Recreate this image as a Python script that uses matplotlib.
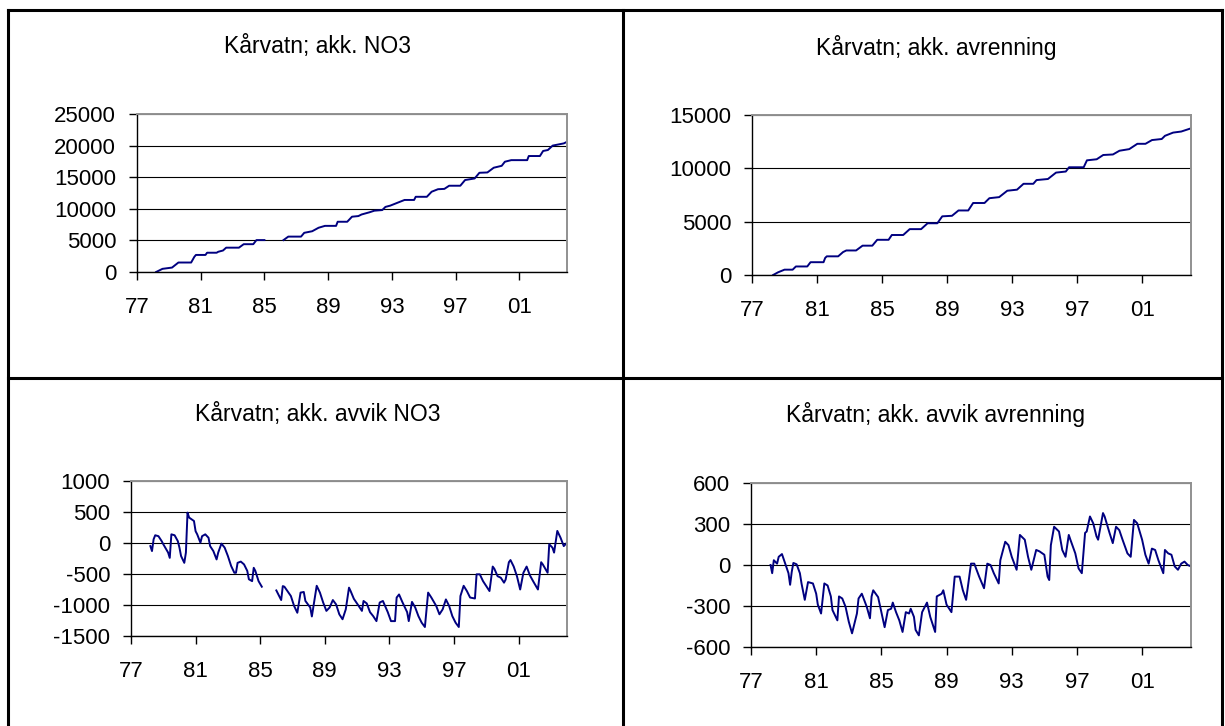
import numpy as np
import matplotlib.pyplot as plt
from matplotlib.lines import Line2D

plt.rcParams['font.family'] = ['Liberation Sans', 'DejaVu Sans']
plt.rcParams['axes.unicode_minus'] = False

# years as two-digit numbers from 1900 (101 = 2001), nan marks missing data
no3_acc_year = [78.2, 78.6, 79.2, 79.6, 80.4, 80.6, 80.7, 81.3, 81.4, 82.0, 82.1, 82.4, 82.6,
                83.4, 83.7, 84.3, 84.5, 85.0, np.nan, 86.2, 86.5, 87.3, 87.5, 88.0, 88.4,
                88.8, 89.5, 89.6, 90.2, 90.5, 90.9, 91.1, 91.6, 91.9, 92.4, 92.6, 92.9,
                93.4, 93.8, 94.4, 94.5, 95.2, 95.5, 95.9, 96.3, 96.6, 97.3, 97.6, 98.2,
                98.5, 99.0, 99.4, 99.9, 100.1, 100.5, 101.5, 101.6, 102.3, 102.5, 102.8,
                103.1, 103.8, 104.0]
no3_acc = [0, 500, 700, 1500, 1500, 2400, 2700, 2700, 3050, 3050, 3200, 3400, 3850,
           3850, 4400, 4400, 5050, 5050, np.nan, 5050, 5600, 5600, 6200, 6450, 7000,
           7300, 7300, 7950, 7950, 8750, 8850, 9100, 9450, 9700, 9800, 10300, 10500,
           11000, 11400, 11400, 11900, 11900, 12700, 13100, 13150, 13650, 13650, 14550, 14800,
           15700, 15750, 16500, 16800, 17450, 17700, 17700, 18350, 18350, 19150, 19300,
           20000, 20350, 20600]

runoff_acc_year = [78.3, 78.6, 79.0, 79.5, 79.7, 80.4, 80.6, 81.4, 81.5, 81.6, 82.3, 82.6,
                   82.8, 83.4, 83.8, 84.4, 84.7, 85.4, 85.6, 86.3, 86.7, 87.4, 87.8, 88.4,
                   88.7, 89.3, 89.7, 90.3, 90.6, 91.3, 91.6, 92.2, 92.7, 93.3, 93.7, 94.3,
                   94.5, 95.2, 95.7, 96.3, 96.5, 97.4, 97.6, 98.2, 98.6, 99.2, 99.6, 100.2,
                   100.7, 101.2, 101.6, 102.2, 102.4, 102.9, 103.4, 104.0]
runoff_acc = [0, 250, 500, 500, 800, 800, 1200, 1200, 1600, 1750, 1750, 2150,
              2300, 2300, 2750, 2750, 3300, 3300, 3750, 3750, 4300, 4300, 4850, 4850,
              5500, 5550, 6050, 6050, 6750, 6750, 7200, 7300, 7900, 8000, 8550, 8550,
              8900, 9000, 9600, 9700, 10100, 10100, 10750, 10850, 11250, 11300, 11650, 11800,
              12300, 12300, 12650, 12750, 13050, 13350, 13450, 13750]

no3_dev_year = [78.2, 78.3, 78.4, 78.5, 78.7, 78.9, 79.0, 79.3, 79.4, 79.5, 79.7, 79.9,
                80.0, 80.1, 80.3, 80.4, 80.5, 80.6, 80.9, 81.0, 81.1, 81.3, 81.4, 81.6,
                81.8, 81.9, 82.1, 82.3, 82.4, 82.6, 82.8, 83.0, 83.2, 83.4, 83.5, 83.6,
                83.8, 84.0, 84.2, 84.3, 84.5, 84.6, 84.7, 84.9, 85.1, np.nan,
                86.0, 86.3, 86.4, 86.5, 86.9, 87.1, 87.3, 87.5, 87.7, 87.8, 88.1, 88.2,
                88.5, 88.7, 88.9, 89.1, 89.3, 89.5, 89.7, 89.9, 90.1, 90.3, 90.5, 90.6,
                90.8, 91.1, 91.3, 91.4, 91.6, 91.8, 92.0, 92.2, 92.4, 92.6, 92.9, 93.1,
                93.35, 93.45, 93.6, 93.8, 94.1, 94.2, 94.4, 94.6, 94.8, 95.0, 95.2, 95.4,
                95.6, 95.9, 96.1, 96.3, 96.5, 96.7, 96.9, 97.1, 97.3, 97.4, 97.6, 97.8,
                98.0, 98.3, 98.4, 98.6, 98.8, 99.0, 99.2, 99.4, 99.5, 99.7, 99.9, 100.1,
                100.2, 100.4, 100.5, 100.7, 100.9, 101.1, 101.3, 101.5, 101.7, 101.9,
                102.2, 102.4, 102.5, 102.8, 102.9, 103.1, 103.2, 103.4, 103.6, 103.8, 104.0]
no3_dev = [-50, -130, 60, 125, 110, 30, -20, -155, -240, 140, 125, 30,
           -75, -210, -320, -155, 490, 410, 355, 190, 140, 5, 110, 140,
           85, -50, -130, -265, -155, -10, -75, -210, -370, -480, -480, -320,
           -300, -345, -450, -585, -615, -400, -450, -615, -705, np.nan,
           -765, -920, -695, -705, -855, -1015, -1125, -800, -790, -935, -1040, -1185,
           -690, -800, -960, -1095, -1040, -920, -990, -1150, -1230, -1070, -720, -775,
           -900, -1015, -1095, -935, -975, -1115, -1180, -1260, -960, -935, -1115, -1260,
           -1260, -880, -830, -950, -1115, -1260, -950, -1040, -1180, -1285, -1355, -800,
           -880, -1015, -1150, -1070, -910, -1015, -1180, -1285, -1355, -855, -690, -775,
           -880, -895, -505, -505, -615, -695, -775, -380, -415, -535, -560, -640,
           -590, -310, -275, -380, -535, -750, -480, -380, -520, -615,
           -750, -310, -345, -480, -20, -75, -155, 195, 85, -50, 5]

runoff_dev_year = [78.2, 78.3, 78.4, 78.6, 78.7, 78.9, 79.1, 79.3, 79.4, 79.5, 79.6, 79.8,
                   80.0, 80.1, 80.3, 80.5, 80.8, 81.0, 81.1, 81.3, 81.5, 81.7, 81.9, 82.0,
                   82.3, 82.4, 82.6, 82.8, 83.0, 83.2, 83.5, 83.6, 83.8, 84.1, 84.3, 84.4,
                   84.5, 84.8, 85.0, 85.2, 85.4, 85.6, 85.7, 85.9, 86.1, 86.3, 86.5, 86.7,
                   86.8, 87.0, 87.1, 87.3, 87.5, 87.8, 88.0, 88.3, 88.4, 88.7, 88.8, 89.0,
                   89.3, 89.5, 89.8, 90.0, 90.2, 90.5, 90.7, 91.0, 91.3, 91.5, 91.7, 91.9,
                   92.2, 92.3, 92.6, 92.8, 93.0, 93.3, 93.5, 93.8, 94.0, 94.2, 94.5, 94.7,
                   95.0, 95.2, 95.3, 95.4, 95.6, 95.9, 96.1, 96.3, 96.5, 96.6, 96.9, 97.1,
                   97.3, 97.5, 97.6, 97.8, 98.0, 98.2, 98.3, 98.6, 98.7, 99.0, 99.2, 99.4,
                   99.6, 99.8, 100.1, 100.3, 100.5, 100.7, 101.0, 101.2, 101.4, 101.6,
                   101.8, 102.0, 102.3, 102.4, 102.6, 102.8, 103.0, 103.2, 103.4, 103.6,
                   103.8, 104.0]
runoff_dev = [0, -60, 35, 10, 60, 80, 10, -60, -145, -50, 15, 5,
              -60, -135, -255, -125, -135, -210, -290, -355, -135, -150, -230, -330,
              -405, -230, -245, -305, -415, -500, -355, -245, -210, -305, -390, -230,
              -185, -235, -345, -455, -330, -320, -275, -345, -405, -490, -345, -355,
              -320, -380, -475, -515, -345, -275, -380, -490, -230, -210, -185, -290,
              -345, -85, -85, -185, -255, 10, 10, -85, -170, 10, 0, -60,
              -135, 35, 170, 145, 60, -35, 220, 185, 60, -35, 110, 100,
              75, -85, -110, 145, 280, 245, 110, 60, 220, 185, 85, -25,
              -60, 235, 245, 355, 305, 210, 185, 380, 355, 235, 160, 280,
              255, 185, 85, 60, 330, 305, 185, 75, 10, 120,
              110, 35, -60, 110, 85, 75, -10, -35, 10, 25,
              0, -10]

titles = ['Kårvatn; akk. NO3', 'Kårvatn; akk. avrenning',
          'Kårvatn; akk. avvik NO3', 'Kårvatn; akk. avvik avrenning']
title_xy = [(317, 47), (936, 47), (318, 415), (936, 415)]
year_ticks = [77, 81, 85, 89, 93, 97, 101]
year_labels = ['77', '81', '85', '89', '93', '97', '01']

W, H = 1225, 726
fig = plt.figure(figsize=(W / 100, H / 100), dpi=100)


def box(x0, y0, x1, y1):
    return [x0 / W, 1 - y1 / H, (x1 - x0) / W, (y1 - y0) / H]


panels = [
    (box(137, 114, 567, 272), no3_acc_year, no3_acc, (0, 25000), np.arange(0, 25001, 5000)),
    (box(752, 115, 1191, 275), runoff_acc_year, runoff_acc, (0, 15000), np.arange(0, 15001, 5000)),
    (box(131, 481, 567, 636), no3_dev_year, no3_dev, (-1500, 1000), np.arange(-1500, 1001, 500)),
    (box(751, 483, 1191, 647), runoff_dev_year, runoff_dev, (-600, 600), np.arange(-600, 601, 300)),
]

for (rect, xs, ys, ylim, yt), title, (tx, ty) in zip(panels, titles, title_xy):
    ax = fig.add_axes(rect)
    ax.plot(xs, ys, color='#000080', lw=1.4)
    ax.set_xlim(77, 104)
    ax.set_ylim(*ylim)
    ax.set_yticks(yt)
    ax.set_xticks(year_ticks)
    ax.set_xticklabels(year_labels)
    ax.grid(axis='y', color='black', lw=0.8)
    ax.set_axisbelow(True)
    for s in ['top', 'right']:
        ax.spines[s].set_color('#909090')
        ax.spines[s].set_linewidth(1.4)
    for s in ['left', 'bottom']:
        ax.spines[s].set_color('black')
        ax.spines[s].set_linewidth(1.0)
    ax.tick_params(axis='both', direction='out', length=6, width=1, labelsize=16)
    ax.tick_params(axis='y', pad=9)
    ax.tick_params(axis='x', pad=12)
    fig.text(tx / W, 1 - ty / H, title, ha='center', va='center', fontsize=16.5)

# table frame around the four charts
for (x0, y0, x1, y1) in [(8, 10, 1222, 10), (8, 10, 8, 726), (1222, 10, 1222, 726),
                         (623, 10, 623, 726), (8, 378, 1222, 378)]:
    fig.add_artist(Line2D([x0 / W, x1 / W], [1 - y0 / H, 1 - y1 / H],
                          color='black', lw=2.2, transform=fig.transFigure))

fig.savefig('out.png', dpi=100)
